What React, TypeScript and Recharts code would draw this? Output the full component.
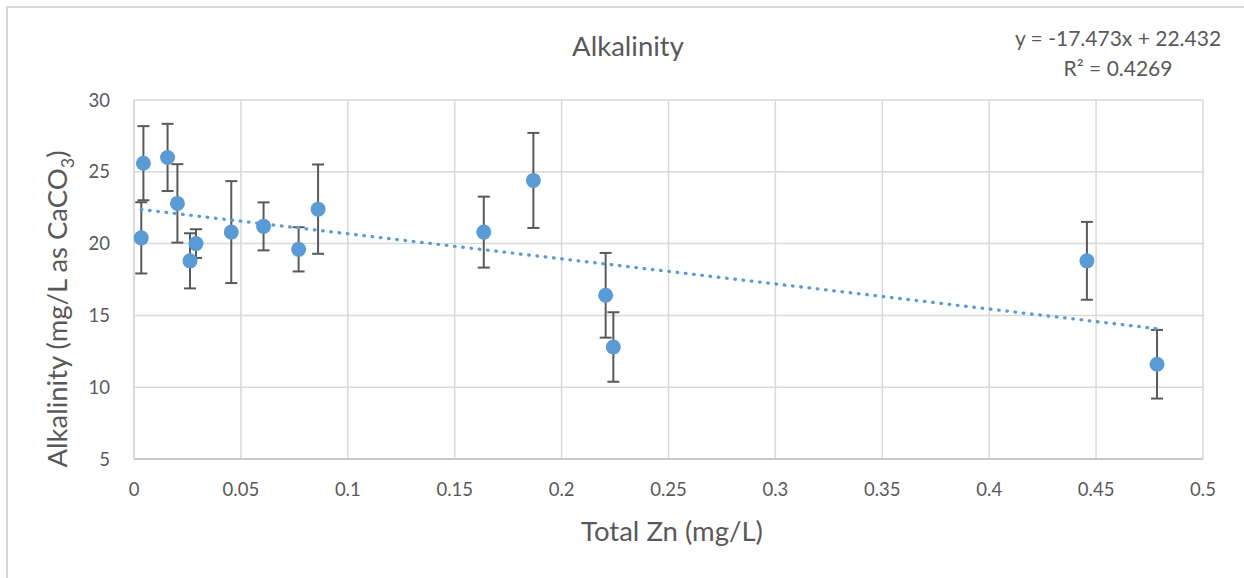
import React from 'react';
import {
  CartesianGrid,
  ErrorBar,
  Label,
  Scatter,
  ScatterChart,
  XAxis,
  YAxis,
} from 'recharts';

// Total zinc (mg/L) per sample
const totalZn = [
  0.0044, 0.0034, 0.0157, 0.0203, 0.0262, 0.029, 0.0455, 0.0606, 0.077, 0.0861, 0.1636, 0.1868,
  0.2206, 0.2242, 0.4457, 0.4785,
];
// Alkalinity (mg/L as CaCO3)
const alkalinity = [
  25.6, 20.4, 26.0, 22.8, 18.8, 20.0, 20.8, 21.2, 19.6, 22.4, 20.8, 24.4, 16.4, 12.8, 18.8, 11.6,
];
// +/- one standard deviation
const alkalinityErr = [
  2.58, 2.48, 2.34, 2.73, 1.92, 1.0, 3.55, 1.67, 1.54, 3.11, 2.47, 3.31, 2.95, 2.42, 2.71, 2.39,
];

const xTicks = [0, 0.05, 0.1, 0.15, 0.2, 0.25, 0.3, 0.35, 0.4, 0.45, 0.5];
const yTicks = [5, 10, 15, 20, 25, 30];

// linear trendline coefficients
const slope = -17.473;
const intercept = 22.432;
const r2 = 0.4269;

const BLUE = '#5b9bd5';
const TEXT = '#595959';
const GRID = '#d9d9d9';
const FONT = 'Lato, "Open Sans", sans-serif';

const points = totalZn.map((x, i) => ({ x, y: alkalinity[i], err: alkalinityErr[i] }));

const xMin = Math.min(...totalZn);
const xMax = Math.max(...totalZn);
const trend = [xMin, xMax].map((x) => ({ x, y: slope * x + intercept }));

const fmtTick = (v: number) => String(v);

function YTitle() {
  return (
    <text
      transform="translate(67, 309) rotate(-90)"
      textAnchor="middle"
      fill={TEXT}
      fontSize={27.5}
      fontFamily={FONT}
    >
      Alkalinity (mg/L as CaCO
      <tspan fontSize={18} dy={7}>
        3
      </tspan>
      <tspan dy={-7}>)</tspan>
    </text>
  );
}

function XTitle() {
  return (
    <text x={672} y={541} textAnchor="middle" fill={TEXT} fontSize={27.5} fontFamily={FONT}>
      Total Zn (mg/L)
    </text>
  );
}

export default function App() {
  const sign = intercept >= 0 ? '+' : '-';
  const equation = `y = ${slope}x ${sign} ${Math.abs(intercept)}`;
  return (
    <div
      style={{
        position: 'absolute',
        left: 0,
        top: 0,
        width: 1244,
        height: 578,
        overflow: 'hidden',
        background: '#fff',
        fontFamily: FONT,
      }}
    >
      <div
        style={{
          position: 'absolute',
          left: 6,
          top: 6,
          width: 1400,
          height: 800,
          borderTop: `2px solid ${GRID}`,
          borderLeft: `2px solid ${GRID}`,
        }}
      />
      <div
        style={{
          position: 'absolute',
          left: 478,
          width: 300,
          top: 26,
          textAlign: 'center',
          fontSize: 27.5,
          lineHeight: '40px',
          color: TEXT,
        }}
      >
        Alkalinity
      </div>
      <div
        style={{
          position: 'absolute',
          left: 968,
          width: 300,
          top: 23,
          textAlign: 'center',
          fontSize: 21,
          lineHeight: '30px',
          color: TEXT,
        }}
      >
        <div>{equation}</div>
        <div>R² = {r2}</div>
      </div>
      <ScatterChart
        width={1244}
        height={578}
        margin={{ top: 100, right: 41, bottom: 0, left: 0 }}
        style={{ position: 'absolute', left: 0, top: 0 }}
      >
        <CartesianGrid stroke={GRID} strokeWidth={1.5} />
        <XAxis
          type="number"
          dataKey="x"
          domain={[0, 0.5]}
          ticks={xTicks}
          tickFormatter={fmtTick}
          height={119}
          tickLine={false}
          tickSize={0}
          tickMargin={24}
          axisLine={{ stroke: '#bfbfbf', strokeWidth: 1.5 }}
          tick={{ fill: TEXT, fontSize: 18.5, fontFamily: FONT }}
          interval={0}
        >
          <Label content={<XTitle />} />
        </XAxis>
        <YAxis
          type="number"
          dataKey="y"
          domain={[5, 30]}
          ticks={yTicks}
          width={134}
          tickLine={false}
          tickSize={0}
          tickMargin={24}
          axisLine={{ stroke: GRID, strokeWidth: 1.5 }}
          tick={{ fill: TEXT, fontSize: 18.5, fontFamily: FONT }}
          interval={0}
        >
          <Label content={<YTitle />} />
        </YAxis>
        <Scatter
          data={trend}
          line={{
            stroke: BLUE,
            strokeWidth: 3.3,
            strokeDasharray: '0.6 7.7',
            strokeLinecap: 'round',
          }}
          shape={() => <g />}
          isAnimationActive={false}
          legendType="none"
        />
        <Scatter
          data={points}
          shape={(p: any) => <circle cx={p.cx} cy={p.cy} r={7.5} fill={BLUE} />}
          isAnimationActive={false}
        >
          <ErrorBar
            dataKey="err"
            direction="y"
            width={6}
            stroke={TEXT}
            strokeWidth={2}
            isAnimationActive={false}
          />
        </Scatter>
      </ScatterChart>
    </div>
  );
}
